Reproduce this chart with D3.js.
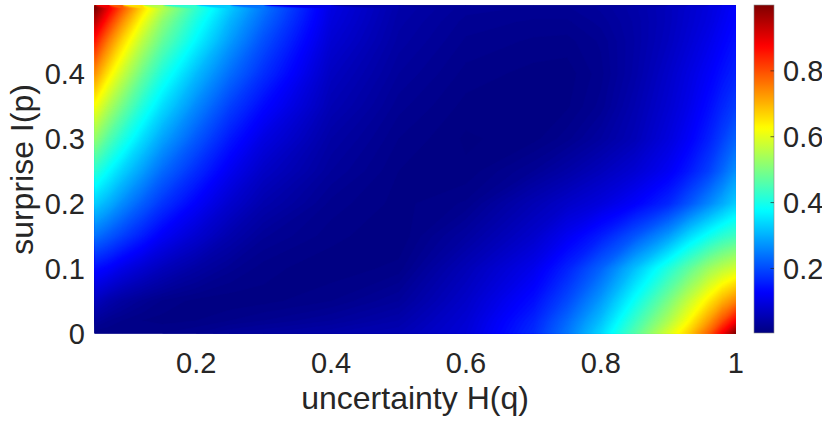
<!DOCTYPE html>
<html><head><meta charset="utf-8">
<script src="https://cdn.jsdelivr.net/npm/d3@7"></script>
<style>
body{margin:0;background:#fff}
svg{display:block}
text{font-family:"Liberation Sans",Arial,Helvetica,sans-serif;fill:#262626}
</style>
</head><body>
<svg id="chart" width="822" height="427"></svg>
<script>
// ---- data ----
const uncertaintyH = [0.05,0.07,0.09,0.12,0.15,0.2,0.25,0.3,0.4,0.5,0.6,0.7,0.75,0.8,0.85,0.9,0.93,0.96,0.98,1.0];
const surpriseI = [0,0.02,0.05,0.1,0.15,0.2,0.25,0.3,0.35,0.4,0.45,0.48,0.5];
// one row per surpriseI value, one column per uncertaintyH value
const values = [
  [0.01,0.01,0.01,0.012,0.015,0.02,0.03,0.035,0.045,0.055,0.09,0.17,0.245,0.34,0.46,0.589,0.672,0.78,0.88,1.0],
  [0.03,0.02,0.015,0.01,0.008,0.01,0.015,0.02,0.03,0.045,0.085,0.16,0.23,0.315,0.43,0.545,0.625,0.72,0.795,0.874],
  [0.065,0.047,0.035,0.023,0.014,0.008,0.006,0.008,0.015,0.03,0.075,0.14,0.2,0.28,0.385,0.495,0.57,0.645,0.7,0.745],
  [0.14,0.125,0.105,0.082,0.062,0.038,0.022,0.012,0.006,0.012,0.058,0.11,0.16,0.225,0.315,0.41,0.47,0.53,0.56,0.584],
  [0.24,0.215,0.19,0.155,0.12,0.082,0.048,0.026,0.012,0.005,0.035,0.078,0.115,0.155,0.21,0.28,0.34,0.39,0.42,0.44],
  [0.33,0.3,0.265,0.22,0.178,0.125,0.08,0.048,0.018,0.008,0.016,0.055,0.075,0.095,0.125,0.165,0.21,0.26,0.295,0.33],
  [0.42,0.375,0.335,0.283,0.232,0.17,0.114,0.072,0.03,0.01,0.006,0.025,0.042,0.062,0.085,0.118,0.15,0.19,0.228,0.27],
  [0.52,0.46,0.41,0.345,0.288,0.215,0.15,0.1,0.04,0.015,0.004,0.008,0.018,0.035,0.058,0.095,0.122,0.158,0.19,0.225],
  [0.62,0.55,0.49,0.41,0.345,0.262,0.19,0.135,0.055,0.022,0.008,0.005,0.009,0.022,0.05,0.083,0.107,0.138,0.163,0.187],
  [0.73,0.645,0.575,0.482,0.405,0.312,0.235,0.172,0.068,0.03,0.013,0.008,0.007,0.018,0.042,0.075,0.098,0.122,0.142,0.16],
  [0.85,0.75,0.665,0.56,0.475,0.37,0.28,0.205,0.085,0.038,0.019,0.014,0.013,0.021,0.04,0.065,0.085,0.107,0.124,0.142],
  [0.94,0.83,0.735,0.615,0.515,0.4,0.305,0.228,0.095,0.042,0.023,0.019,0.019,0.027,0.041,0.062,0.08,0.098,0.115,0.132],
  [1.0,0.89,0.79,0.66,0.555,0.425,0.325,0.243,0.1,0.045,0.027,0.024,0.024,0.031,0.043,0.062,0.078,0.095,0.11,0.128]
];
const xTicks = [0.2,0.4,0.6,0.8,1];
const yTicks = [0,0.1,0.2,0.3,0.4];
const cTicks = [0.2,0.4,0.6,0.8];
const xTitle = "uncertainty H(q)";
const yTitle = "surprise I(p)";

// ---- layout ----
const plot = {l:94.4, r:735.7, t:5.5, b:333.5};
const cbar = {l:754, r:774, t:5, b:333};
const xDomain = [0.049, 1.0], yDomain = [0, 0.505], clim = [0.004, 1.0];

const svg = d3.select("#chart");
const x = d3.scaleLinear().domain(xDomain).range([plot.l, plot.r]);
const y = d3.scaleLinear().domain(yDomain).range([plot.b, plot.t]);
const cy = d3.scaleLinear().domain(clim).range([cbar.b, cbar.t]);

function jet(t){
  t = Math.max(0, Math.min(1, t));
  const f = v => Math.max(0, Math.min(1, 1.5 - Math.abs(v)));
  return d3.rgb(255*f(4*t-3), 255*f(4*t-2), 255*f(4*t-1)).formatHex();
}
const color = v => jet((v - clim[0]) / (clim[1] - clim[0]));

// ---- heatmap via filled contours ----
const nx = uncertaintyH.length, ny = surpriseI.length;
const flat = values.flat();
const gx = d3.scaleLinear()
  .domain([0, ...uncertaintyH.map((d,i)=>i+0.5), nx])
  .range([xDomain[0], ...uncertaintyH, xDomain[1]]);
const gy = d3.scaleLinear()
  .domain([0, ...surpriseI.map((d,i)=>i+0.5), ny])
  .range([yDomain[0], ...surpriseI, yDomain[1]]);
const proj = d3.geoTransform({point(px, py){ this.stream.point(x(gx(px)), y(gy(py))); }});
const path = d3.geoPath(proj);

const step = 0.005;
const thresholds = d3.range(0, 1.0, step);
const contours = d3.contours().size([nx, ny]).thresholds(thresholds)(flat);

svg.append("clipPath").attr("id", "plotclip").append("rect")
  .attr("x", plot.l).attr("y", plot.t).attr("width", plot.r - plot.l).attr("height", plot.b - plot.t);
const g = svg.append("g").attr("clip-path", "url(#plotclip)");
g.append("rect").attr("x", plot.l).attr("y", plot.t)
  .attr("width", plot.r - plot.l).attr("height", plot.b - plot.t)
  .attr("fill", color(d3.min(flat)));
g.selectAll("path").data(contours).join("path")
  .attr("d", path)
  .attr("fill", d => color(d.value + step/2))
  .attr("stroke", d => color(d.value + step/2))
  .attr("stroke-width", 0.4);

// ---- axes ----
const fs = 29;
svg.append("g").selectAll("text").data(xTicks).join("text")
  .attr("x", d => x(d)).attr("y", 373)
  .attr("text-anchor", "middle").attr("font-size", fs)
  .text(d => d3.format("~g")(d));
svg.append("g").selectAll("text").data(yTicks).join("text")
  .attr("x", 85).attr("y", d => y(d) + 0.358*fs)
  .attr("text-anchor", "end").attr("font-size", fs)
  .text(d => d3.format("~g")(d));
svg.append("text").attr("x", (plot.l + plot.r)/2).attr("y", 409)
  .attr("text-anchor", "middle").attr("font-size", 32).text(xTitle);
svg.append("text").attr("transform", `translate(33,${(plot.t + plot.b)/2}) rotate(-90)`)
  .attr("text-anchor", "middle").attr("font-size", 32).text(yTitle);

// ---- colorbar ----
const grad = svg.append("defs").append("linearGradient").attr("id", "jetgrad")
  .attr("x1", 0).attr("y1", 1).attr("x2", 0).attr("y2", 0);
grad.selectAll("stop").data(d3.range(0, 1.0001, 0.01)).join("stop")
  .attr("offset", d => d).attr("stop-color", d => jet(d));
svg.append("rect").attr("x", cbar.l).attr("y", cbar.t)
  .attr("width", cbar.r - cbar.l).attr("height", cbar.b - cbar.t)
  .attr("fill", "url(#jetgrad)").attr("stroke", "#8a8a8a").attr("stroke-width", 0.6);
svg.append("g").selectAll("line").data(cTicks).join("line")
  .attr("x1", cbar.r - 3.5).attr("x2", cbar.r).attr("y1", d => cy(d)).attr("y2", d => cy(d))
  .attr("stroke", "#262626").attr("stroke-width", 0.7);
svg.append("g").selectAll("text").data(cTicks).join("text")
  .attr("x", 783).attr("y", d => cy(d) + 0.358*fs)
  .attr("font-size", fs).text(d => d3.format("~g")(d));
</script>
</body></html>
